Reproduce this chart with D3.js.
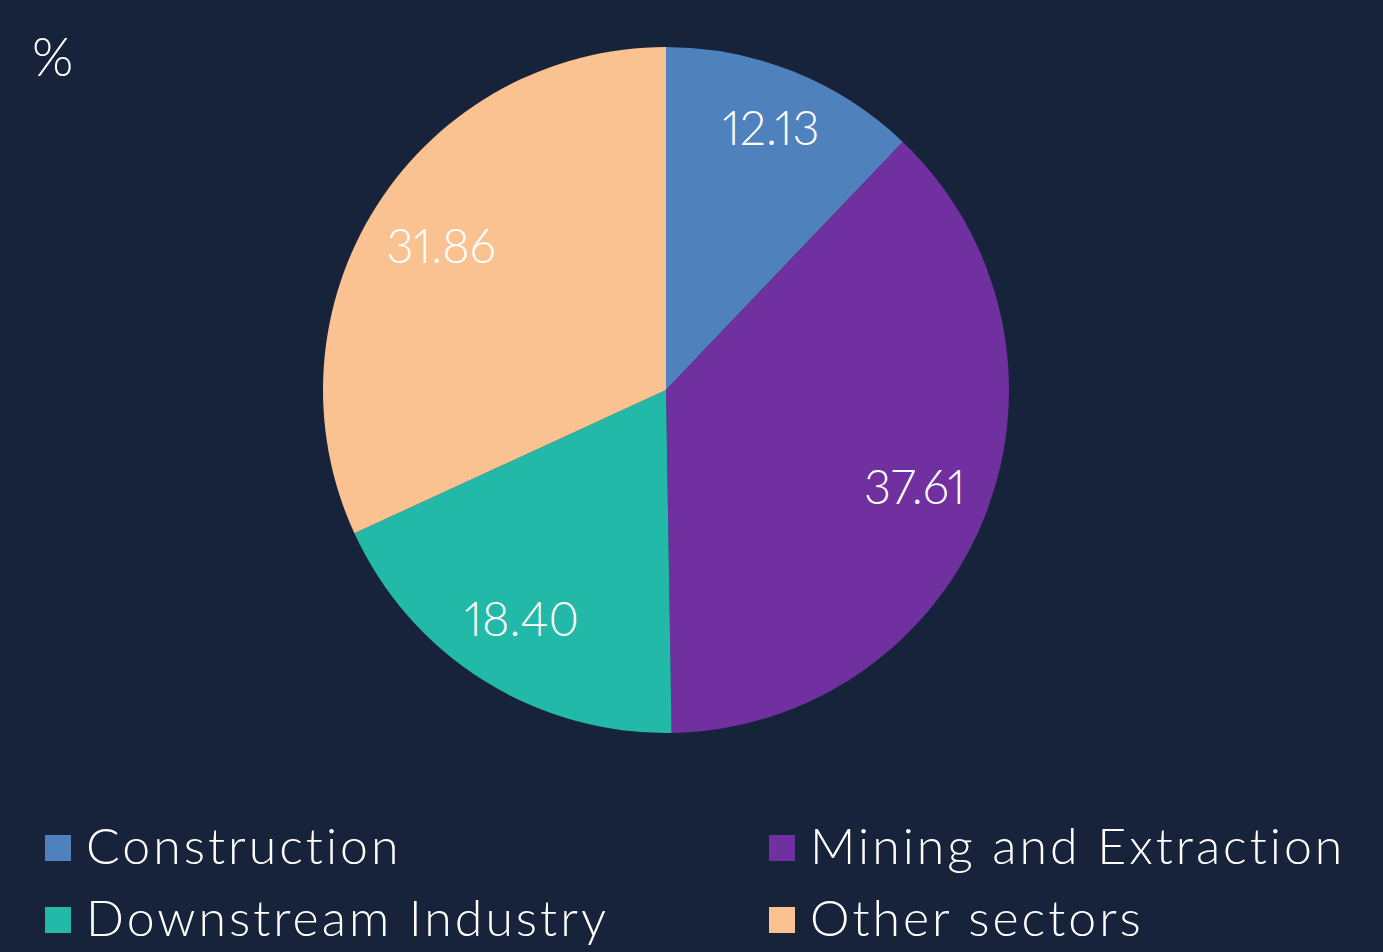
<!DOCTYPE html>
<html>
<head>
<meta charset="utf-8">
<script src="https://cdn.jsdelivr.net/npm/d3@7"></script>
<style>
  html, body { margin: 0; padding: 0; background: #17223b; }
  svg { display: block; }
  text {
    font-family: "Lato", "Noto Sans", sans-serif;
    font-weight: 300;
    fill: #ffffff;
    font-variant-ligatures: none;
    font-feature-settings: "liga" 0, "pnum" 1;
  }
</style>
</head>
<body>
<div id="chart"></div>
<script>
'use strict';

const categories = ["Construction", "Mining and Extraction", "Downstream Industry", "Other sectors"];
const values = [12.13, 37.61, 18.40, 31.86];
const valueLabels = ["12.13", "37.61", "18.40", "31.86"];
const sliceColors = ["#4f81bd", "#7030a0", "#23b9a8", "#f9c290"];
const unitLabel = "%";

const width = 1383, height = 952;
const cx = 666, cy = 390, radius = 343;
// label distance from centre, per slice (layout only)
const labelRadii = [282, 267, 271, 267];

const svg = d3.select("#chart")
    .append("svg")
    .attr("width", width)
    .attr("height", height);

svg.append("rect")
    .attr("width", width)
    .attr("height", height)
    .attr("fill", "#17223b");

// unit label top-left
svg.append("text")
    .attr("x", 32)
    .attr("y", 76)
    .style("font-size", "53px")
    .text(unitLabel);

const data = categories.map((c, i) => ({ name: c, value: values[i], label: valueLabels[i], color: sliceColors[i] }));

const pie = d3.pie().sort(null).value(d => d.value);
const arc = d3.arc().innerRadius(0).outerRadius(radius);

const g = svg.append("g").attr("transform", "translate(" + cx + "," + cy + ")");

g.selectAll(".slice")
    .data(pie(data))
    .enter()
    .append("path")
    .attr("class", "slice")
    .attr("d", arc)
    .attr("fill", d => d.data.color);

g.selectAll(".value-label")
    .data(pie(data))
    .enter()
    .append("text")
    .attr("class", "value-label")
    .attr("transform", (d, i) => {
        const r = labelRadii[i];
        return "translate(" + d3.arc().innerRadius(r).outerRadius(r).centroid(d) + ")";
    })
    .attr("text-anchor", "middle")
    .attr("dy", "0.36em")
    .style("font-size", "47px")
    .text(d => d.data.label);

// legend, two columns
const legendX = [45, 769];
const legendY = [848, 920];
const legend = svg.selectAll(".legend")
    .data(data)
    .enter()
    .append("g")
    .attr("class", "legend")
    .attr("transform", (d, i) => "translate(" + legendX[i % 2] + "," + legendY[Math.floor(i / 2)] + ")");

legend.append("rect")
    .attr("x", 0)
    .attr("y", -13)
    .attr("width", 26)
    .attr("height", 26)
    .attr("fill", d => d.color);

legend.append("text")
    .attr("x", 41)
    .attr("y", 16)
    .style("font-size", "50px")
    .style("letter-spacing", "3px")
    .text(d => d.name);
</script>
</body>
</html>
